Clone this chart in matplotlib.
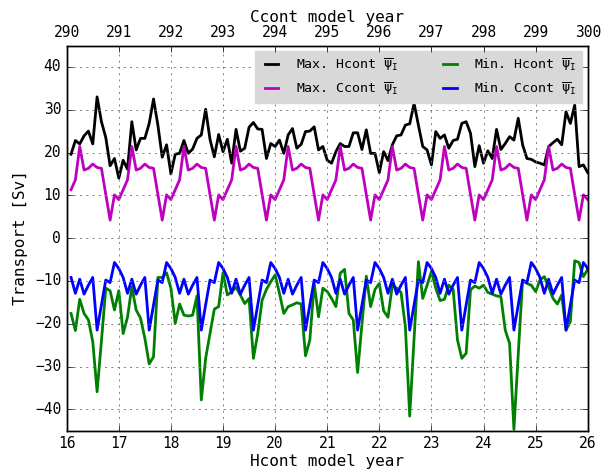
import numpy as np
import matplotlib
matplotlib.use("Agg")
import matplotlib.pyplot as plt

# monthly values, 10 model years
hcont_max = [19.6, 22.8, 22.0, 23.9, 25.0, 22.0, 33.0, 27.2, 23.5, 16.9, 18.6, 14.0,
             18.2, 16.1, 27.2, 20.6, 23.3, 23.3, 26.8, 32.5, 26.4, 18.9, 21.8, 15.0,
             19.6, 19.8, 22.8, 19.8, 20.8, 23.3, 24.1, 30.1, 23.1, 19.0, 24.2, 20.2,
             23.1, 17.5, 25.4, 20.3, 21.0, 25.9, 27.0, 25.5, 25.4, 18.6, 22.1, 21.4,
             22.9, 19.8, 24.1, 25.6, 21.0, 21.9, 24.9, 25.0, 26.0, 20.6, 21.4, 18.2,
             17.5, 20.2, 22.1, 21.4, 21.4, 24.6, 24.6, 20.7, 25.3, 19.8, 19.8, 15.3,
             20.2, 18.1, 21.8, 23.9, 24.1, 26.4, 26.7, 31.5, 26.4, 21.4, 20.6, 17.1,
             24.9, 23.3, 24.1, 21.0, 22.8, 23.1, 26.8, 27.2, 24.5, 16.7, 21.6, 17.5,
             20.4, 18.6, 25.4, 20.7, 22.1, 23.7, 22.9, 28.0, 21.8, 18.6, 18.4, 17.8,
             17.5, 17.1, 21.4, 22.3, 23.1, 21.8, 29.5, 26.8, 31.1, 16.7, 17.1, 15.3]

hcont_min = [-17.6, -21.6, -14.3, -17.6, -19.1, -24.2, -35.9, -24.0, -11.7, -12.3, -16.8, -12.3,
             -22.3, -18.5, -11.4, -16.8, -18.7, -23.4, -29.4, -27.7, -9.2, -9.2, -8.1, -11.7,
             -19.9, -15.4, -18.0, -18.2, -18.0, -13.5, -37.8, -28.1, -22.3, -16.6, -16.0, -8.1,
             -13.3, -12.5, -11.5, -13.3, -15.3, -14.1, -28.1, -22.3, -14.5, -12.0, -10.2, -8.6,
             -12.9, -17.6, -16.0, -15.6, -15.1, -15.4, -27.5, -23.8, -10.6, -18.4, -11.7, -12.5,
             -14.1, -16.0, -8.2, -7.3, -17.6, -19.1, -31.4, -20.1, -8.9, -16.0, -12.0, -10.6,
             -17.0, -18.5, -11.0, -11.7, -12.7, -20.7, -41.6, -23.5, -5.5, -14.1, -11.0, -7.8,
             -11.7, -14.6, -14.3, -11.0, -12.0, -23.8, -28.1, -26.9, -12.1, -11.2, -11.7, -11.0,
             -12.7, -13.1, -13.5, -13.7, -21.5, -24.6, -44.7, -27.0, -9.8, -10.6, -11.0, -12.5,
             -9.8, -9.0, -11.4, -14.1, -15.4, -13.3, -21.5, -19.5, -5.3, -5.7, -9.0, -7.3]

# Ccont is the same annual cycle every year
ccont_max_year = [11.3, 13.6, 21.4, 15.9, 16.3, 17.3, 16.5, 16.3, 10.2, 4.2, 10.1, 9.0]
ccont_min_year = [-9.2, -12.9, -9.6, -13.1, -11.0, -9.2, -21.5, -15.6, -9.8, -10.4, -5.7, -7.1]
ccont_max = ccont_max_year * 10
ccont_min = ccont_min_year * 10

labels = [r"Max. Hcont $\overline{\psi}_\mathrm{I}$", r"Max. Ccont $\overline{\psi}_\mathrm{I}$",
          r"Min. Hcont $\overline{\psi}_\mathrm{I}$", r"Min. Ccont $\overline{\psi}_\mathrm{I}$"]

plt.style.use("classic")
plt.rcParams["font.family"] = "DejaVu Sans Mono"
plt.rcParams["mathtext.fontset"] = "custom"
plt.rcParams["mathtext.rm"] = "DejaVu Sans Mono"
plt.rcParams["mathtext.it"] = "DejaVu Sans Mono"
plt.rcParams["figure.facecolor"] = "white"
plt.rcParams["savefig.facecolor"] = "white"
plt.rcParams["axes.formatter.useoffset"] = False

t = 16 + np.arange(1, 121) / 12.0

fig = plt.figure(figsize=(6.02, 4.72), dpi=100)
ax = fig.add_axes([0.1108, 0.0875, 0.8655, 0.8161])

ax.plot(t, hcont_max, color="k", lw=2.0, label=labels[0])
ax.plot(t, ccont_max, color="m", lw=2.0, label=labels[1])
ax.plot(t, hcont_min, color="g", lw=2.0, label=labels[2])
ax.plot(t, ccont_min, color="b", lw=2.0, label=labels[3])

ax.set_xlim(16, 26)
ax.set_ylim(-45, 45)
ax.set_xticks(np.arange(16, 27))
ax.set_yticks(np.arange(-40, 41, 10))
ax.tick_params(labelsize=10.5)
ax.grid(True, color="0.45", linestyle=(0, (1.5, 3)), lw=0.6)
ax.set_xlabel("Hcont model year", fontsize=11.5, labelpad=2)
ax.set_ylabel("Transport [Sv]", fontsize=11.5)

ax2 = ax.twiny()
ax2.set_xlim(290, 300)
ax2.set_xticks(np.arange(290, 301))
ax2.tick_params(labelsize=10.5)
ax2.set_xlabel("Ccont model year", fontsize=11.5, labelpad=2)

leg = ax.legend(loc="upper right", ncol=2, fontsize=9.5, frameon=True,
                handlelength=1.65, handletextpad=1.0, columnspacing=3.1,
                labelspacing=0.6, borderaxespad=0.45)
leg.get_frame().set_facecolor("#d8d8d8")
leg.get_frame().set_edgecolor("#d8d8d8")

fig.savefig("out.png", dpi=100)
